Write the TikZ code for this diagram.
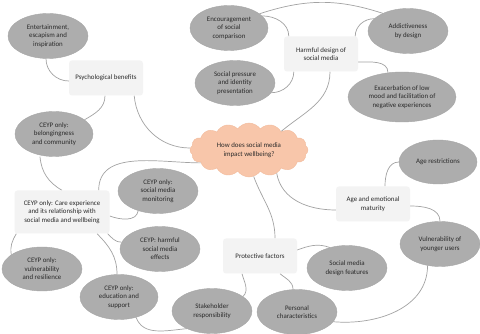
\documentclass[tikz,border=0pt]{standalone}
\usepackage{fontspec}
\setmainfont{Carlito}
\usetikzlibrary{shapes.geometric,shapes.symbols,backgrounds}
\definecolor{ellfill}{HTML}{ADADAD}
\definecolor{elldraw}{HTML}{A6A6A6}
\definecolor{boxfill}{HTML}{F3F3F3}
\definecolor{cloudfill}{HTML}{F8C6AA}
\definecolor{clouddraw}{HTML}{F2BB9C}
\definecolor{linecol}{HTML}{A3A3A3}
\definecolor{txt}{HTML}{2A2A2A}
\begin{document}
\begin{tikzpicture}[x=1pt,y=-1pt,
  every node/.style={font=\fontsize{6.9}{8.4}\selectfont, text=txt, align=center, inner sep=0pt},
  oval/.style={ellipse, fill=ellfill, draw=elldraw, line width=0.4pt, minimum width=80pt, minimum height=45pt},
  topic/.style={rectangle, rounded corners=3pt, fill=boxfill, minimum width=74pt, minimum height=35pt},
  conn/.style={draw=linecol, line width=0.7pt}]
\useasboundingbox (0,0) rectangle (480,334);
% central cloud
\node[cloud, cloud puffs=16, cloud puff arc=110, aspect=2.3, fill=cloudfill, draw=clouddraw, line width=0.4pt,
      minimum width=118pt, minimum height=54pt] (cloud) at (249,150) {How does social media\\impact wellbeing?};
% topic boxes
\node[topic] (psych) at (106,78) {Psychological benefits};
\node[topic] (harm) at (321,54) {Harmful design of\\social media};
\node[topic] (age) at (373,204) {Age and emotional\\maturity};
\node[topic] (prot) at (260,256) {Protective factors};
\node[topic, minimum width=95pt, minimum height=43pt] (care) at (62,212) {CEYP only: Care experience\\and its relationship with\\social media and wellbeing};
% ellipses
\node[oval] (ent) at (48,36) {Entertainment,\\escapism and\\inspiration};
\node[oval, minimum width=78pt] (enc) at (229,28) {Encouragement\\of social\\comparison};
\node[oval] (soc) at (235,83) {Social pressure\\and identity\\presentation};
\node[oval] (addict) at (408,31) {Addictiveness\\by design};
\node[oval, minimum width=108pt, minimum height=50pt] (exac) at (402,97) {Exacerbation of low\\mood and facilitation of\\negative experiences};
\node[oval, minimum width=78pt] (belong) at (54,134) {CEYP only:\\belongingness\\and community};
\node[oval, minimum width=78pt, minimum height=44pt] (agerest) at (438,162) {Age restrictions};
\node[oval] (vuln) at (440,244) {Vulnerability of\\younger users};
\node[oval] (smdf) at (347,268) {Social media\\design features};
\node[oval] (personal) at (297,312) {Personal\\characteristics};
\node[oval] (stake) at (212,311) {Stakeholder\\responsibility};
\node[oval, minimum width=78pt] (edu) at (119,297) {CEYP only:\\education and\\support};
\node[oval, minimum height=44pt] (resil) at (42,269) {CEYP only:\\vulnerability\\and resilience};
\node[oval] (harmeff) at (160,249) {CEYP: harmful\\social media\\effects};
\node[oval] (monitor) at (158,191) {CEYP only:\\social media\\monitoring};
% connectors
\begin{scope}[on background layer]
\fill[white] (0,0) rectangle (480,334);
\draw[conn] ([xshift=-9pt]psych.south east) to[out=-85,in=180] ([yshift=2pt]cloud.west);
\draw[conn] ([xshift=-2pt]ent.south) to[out=-90,in=180] ([yshift=-3pt]psych.west);
\draw[conn] ([xshift=-1pt]psych.south) to[out=-90,in=30] (belong.25);
\draw[conn] ([xshift=9pt]harm.south) to[out=-90,in=40] (cloud.30);
\draw[conn] (enc.20) to[out=0,in=90] ([xshift=5pt]harm.north west);
\draw[conn] (soc.-15) to[out=0,in=-90] ([xshift=10pt]harm.south west);
\draw[conn] ([xshift=-3pt]harm.north east) to[out=90,in=180] (addict.160);
\draw[conn] ([yshift=-8pt]harm.east) to[out=0,in=90] (exac.120);
\draw[conn] (enc.25) to[out=18,in=162] (addict.145);
\draw[conn] (cloud.195) to[out=180,in=90] ([xshift=-11pt]care.north east);
\draw[conn] ([xshift=-14pt]belong.south) to[out=-85,in=150] (care.north);
\draw[conn] (cloud.-40) to[out=-80,in=180] ([yshift=-6pt]age.west);
\draw[conn] ([xshift=12pt]age.north) to[out=90,in=180] (agerest.west);
\draw[conn] ([yshift=-2pt]age.east) to[out=0,in=90] (vuln.north);
\draw[conn] (vuln.-120) to[out=-90,in=-5] (personal.-15);
\draw[conn] (cloud.-80) to[out=-70,in=90] ([xshift=15pt]prot.north);
\draw[conn] ([yshift=6pt]prot.east) to[out=20,in=160] (smdf.130);
\draw[conn] ([xshift=20pt]prot.south) to[out=-40,in=90] ([xshift=-4pt]personal.north);
\draw[conn] ([xshift=-18pt]prot.south) to[out=-75,in=45] (stake.25);
\draw[conn] (edu.-50) to[out=-70,in=185] (stake.-145);
\draw[conn] ([xshift=35pt]care.south) to[out=-45,in=90] ([xshift=-2pt]edu.north);
\draw[conn] ([xshift=2pt]care.south west) to[out=-120,in=100] (resil.155);
\draw[conn] ([yshift=-4pt]care.east) to[out=-20,in=-100] (monitor.-135);
\draw[conn] ([xshift=-2pt]care.south east) to[out=-45,in=180] (harmeff.170);
\end{scope}
\end{tikzpicture}
\end{document}
